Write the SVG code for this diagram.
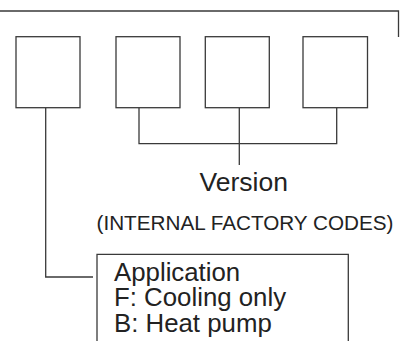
<svg xmlns="http://www.w3.org/2000/svg" width="405" height="341" viewBox="0 0 405 341">
<style>
.ln{fill:none;stroke:#3a3a3a;stroke-width:1.3}
.bx{fill:#fff;stroke:#3a3a3a;stroke-width:1.3}
.t{font-family:"Liberation Sans",Arial,sans-serif;fill:#222}
.big{font-size:26.5px}
.app{font-size:25.8px}
</style>
<rect width="405" height="341" fill="#fff"/>
<g id="connectors">
<path class="ln" d="M0 11H398.5V37"/>
<path class="ln" d="M45.7 108V277H93"/>
<path class="ln" d="M139 108V143.7H336.7V108"/>
<path class="ln" d="M239.3 108V165"/>
</g>
<g id="digit1"><rect class="bx" x="16" y="36.7" width="64" height="71"/></g>
<g id="digit2"><rect class="bx" x="116" y="36.7" width="64" height="71"/></g>
<g id="digit3"><rect class="bx" x="205.3" y="36.7" width="64" height="71"/></g>
<g id="digit4"><rect class="bx" x="303" y="36.7" width="64.5" height="71"/></g>
<g id="version">
<text class="t big" x="243.8" y="191" text-anchor="middle">Version</text>
<text class="t" x="245" y="230" font-size="20.7" text-anchor="middle">(INTERNAL FACTORY CODES)</text>
</g>
<g id="application">
<path class="ln" d="M97 345V254.3H348.3V345"/>
<text class="t app" x="114" y="280.5">Application</text>
<text class="t app" x="114" y="306.3">F: Cooling only</text>
<text class="t app" x="114" y="332">B: Heat pump</text>
</g>
</svg>
